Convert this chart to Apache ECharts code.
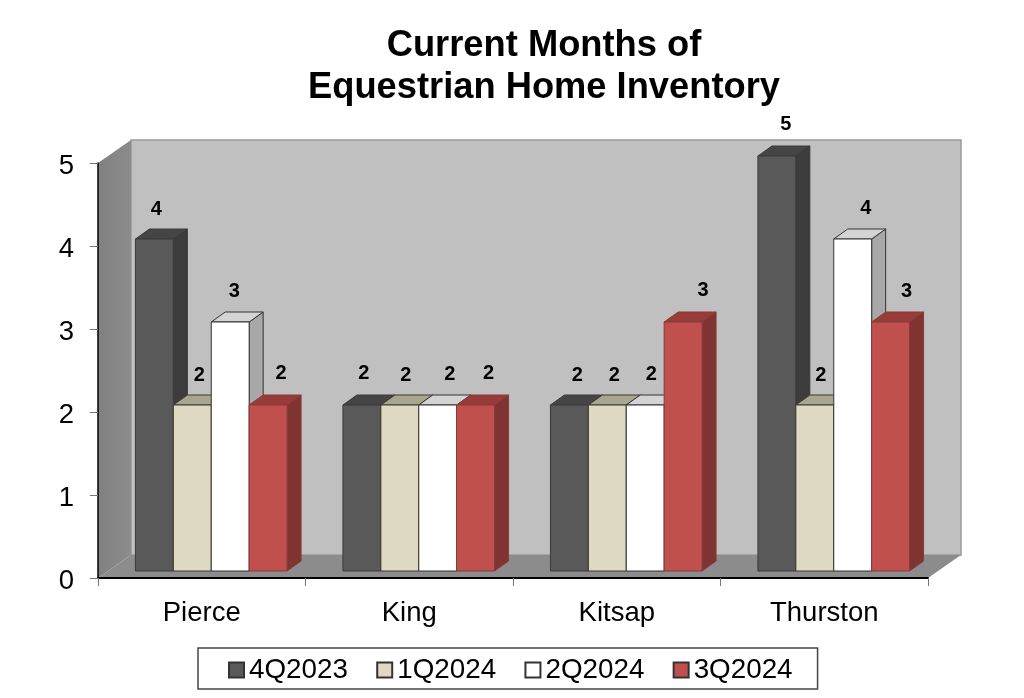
<!DOCTYPE html>
<html><head><meta charset="utf-8">
<style>html,body{margin:0;padding:0;background:#fff}#c{width:1024px;height:698px}</style>
<script src="https://cdn.jsdelivr.net/npm/echarts@6/dist/echarts.min.js"></script>
</head><body><div id="c"></div>
<script>
const categories = ['Pierce','King','Kitsap','Thurston'];
const yTicks = [0,1,2,3,4,5];
const q4_2023 = [4,2,2,5];
const q1_2024 = [2,2,2,2];
const q2_2024 = [3,2,2,4];
const q3_2024 = [2,2,3,3];
const seriesNames = ['4Q2023','1Q2024','2Q2024','3Q2024'];
const seriesValues = [q4_2023,q1_2024,q2_2024,q3_2024];
const fronts = ['#595959','#ddd9c3','#ffffff','#c0504d'];
const tops = ['#454545','#a9a68f','#d4d4d4','#983c3a'];
const sides = ['#3c3c3c','#a6a38f','#a8a8a8','#7f3432'];
const borders = ['#3a3a3a','#3a3a30','#333333','#8a3a38'];
const FONT = '"Liberation Sans", Arial, sans-serif';
const DX = 33, DY = 23;          // depth of the floor
const BDX = 14, BDY = 10;        // depth of a bar
const SX = 9.5, SY = 7;          // offset of the bar row into the floor
const BAR_RATIO = 0.1827;
// hand placement of each value label relative to its bar, per series then category
const labelDX = [[2,2,8,9],[7,6,7,6],[4,12,6,13],[13,13,20,16]];
const labelDY = [30,30,32,32];
const labelDYByCat = [[0,2,0,2],[0,0,0,0],[-1,-1,-1,-1],[0,0,0,-1]];

function poly(points, fill, stroke, lw, z2) {
  return {type:'polygon', z2:z2||0, shape:{points},
    style:{fill, stroke:stroke||null, lineWidth:lw||0}};
}
function wallItem(params, api) {
  const r = params.coordSys;
  const L=r.x, T=r.y, R=r.x+r.width, B=r.y+r.height;
  return {type:'group', children:[
    poly([[L+DX,T-DY],[R+DX,T-DY],[R+DX,B-DY],[L+DX,B-DY]],'#c0c0c0','#9a9a9a',1.5),
    poly([[L,T],[L+DX,T-DY],[L+DX,B-DY],[L,B]],
      {type:'linear',x:0,y:0,x2:1,y2:0,colorStops:[{offset:0,color:'#808080'},{offset:1,color:'#8c8c8c'}]}),
    poly([[L,B],[L+DX,B-DY],[R+DX,B-DY],[R,B]],'#8c8c8c')
  ]};
}
function barItem(si) {
  return function(params, api) {
    const c = api.value(0), v = api.value(1);
    const p = api.coord([c,v]), b = api.coord([c,0]);
    const bw = api.size([1,0])[0]*BAR_RATIO;
    const x0 = p[0]+SX+(si-2)*bw, x1 = x0+bw;
    const y0 = p[1]-SY, y1 = b[1]-SY;
    const bd = borders[si];
    return {type:'group', children:[
      poly([[x1,y0],[x1+BDX,y0-BDY],[x1+BDX,y1-BDY],[x1,y1]],sides[si],bd,1,si*3+1),
      poly([[x0,y0],[x0+BDX,y0-BDY],[x1+BDX,y0-BDY],[x1,y0]],tops[si],bd,1,si*3+1),
      poly([[x0,y0],[x1,y0],[x1,y1],[x0,y1]],fronts[si],bd,1,si*3+2),
      {type:'text', z2:100, style:{text:String(v), x:(x0+x1)/2+labelDX[si][c],
        y:y0-labelDY[si]-labelDYByCat[si][c],
        fill:'#000', align:'center', verticalAlign:'middle', font:'bold 20px '+FONT}}
    ]};
  };
}
const barSeries = seriesNames.map((n,si)=>({
  name:n, type:'custom', renderItem:barItem(si), clip:false, z:3,
  itemStyle:{color:fronts[si], borderColor:'#333', borderWidth:1},
  encode:{x:0,y:1},
  data:seriesValues[si].map((v,i)=>[i,v])
}));
const chart = echarts.init(document.getElementById('c'),null,{renderer:'canvas'});
chart.setOption({
  animation:false,
  backgroundColor:'#fff',
  title:{text:'Current Months of\nEquestrian Home Inventory', left:539, top:20, textAlign:'center',
    textStyle:{fontFamily:FONT, fontWeight:'bold', fontSize:36.3, lineHeight:42, color:'#000'}},
  grid:{left:98, top:163, width:830, height:415},
  xAxis:{type:'category', data:categories, boundaryGap:true,
    axisLine:{show:true,lineStyle:{color:'#000',width:2}},
    axisTick:{show:true,length:8,alignWithLabel:false,lineStyle:{color:'#777',width:1}},
    axisLabel:{fontFamily:FONT,fontSize:27.5,color:'#000',margin:21},z:5},
  yAxis:{type:'value',min:yTicks[0],max:yTicks[yTicks.length-1],interval:1,
    axisLine:{show:true,lineStyle:{color:'#000',width:1.5}},
    axisTick:{show:true,length:8,lineStyle:{color:'#777',width:1}},
    splitLine:{show:false},
    axisLabel:{fontFamily:FONT,fontSize:27.5,color:'#000',margin:24,verticalAlign:'top',lineHeight:6},z:5},
  legend:{data:seriesNames, left:198, top:648, orient:'horizontal', icon:'rect',
    itemWidth:15,itemHeight:15,itemGap:28.3,padding:[8,25,5,30],
    borderColor:'#444',borderWidth:1.5,backgroundColor:'#fff',
    selectedMode:false,
    textStyle:{fontFamily:FONT,fontSize:27.8,color:'#000',padding:[0,0,0,0]}},
  series:[{type:'custom',name:'walls',renderItem:wallItem,clip:false,z:1,silent:true,
    encode:{x:0,y:1},data:[[0,0]]}].concat(barSeries)
});
</script></body></html>
